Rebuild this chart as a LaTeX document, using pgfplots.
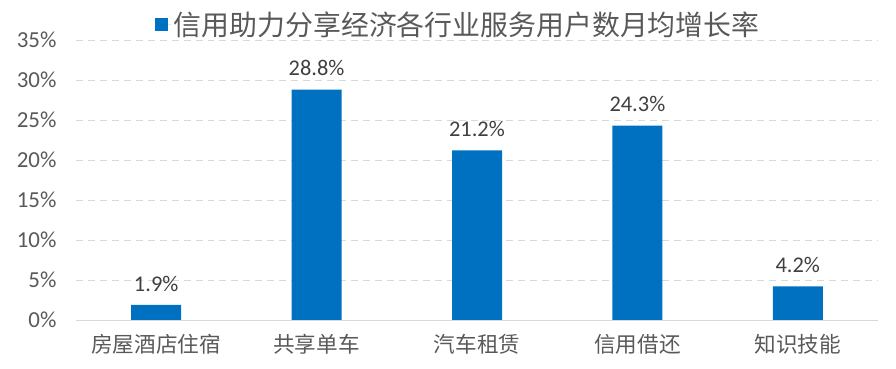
\documentclass[border=0pt]{standalone}
\usepackage{pgfplots}
\pgfplotsset{compat=1.18}
\usepackage{fontspec}
\setmainfont{Carlito}
\newfontfamily\cjk{Noto Sans CJK SC}
\definecolor{barblue}{HTML}{0070C0}
\definecolor{txtgray}{HTML}{595959}
\definecolor{lblgray}{HTML}{404040}
\definecolor{gridgray}{HTML}{D9D9D9}
\begin{document}
\begin{tikzpicture}
\path[use as bounding box] (0,0) rectangle (896bp,369bp);
\begin{axis}[
  at={(76bp,49bp)}, anchor=south west,
  scale only axis, width=802bp, height=280bp,
  xmin=-0.5, xmax=4.5, ymin=0, ymax=35,
  xtick={0,1,2,3,4},
  xticklabels={房屋酒店住宿,共享单车,汽车租赁,信用借还,知识技能},
  ytick={0,5,10,15,20,25,30,35},
  yticklabel={\pgfmathprintnumber{\tick}\%},
  /pgf/number format/assume math mode=true,
  axis x line*=bottom, axis y line*=left,
  x axis line style={draw=gridgray, line width=1pt, -},
  y axis line style={draw=none},
  major tick length=0pt,
  ymajorgrids, grid style={draw=gridgray, dashed, dash pattern=on 7pt off 5pt, line width=1pt},
  xticklabel style={font=\cjk\fontsize{21.7}{25}\selectfont, text=txtgray, yshift=-11bp},
  yticklabel style={font=\fontsize{23}{27}\selectfont, text=txtgray, xshift=-16bp},
  ybar, bar width=50bp,
  nodes near coords={\pgfmathprintnumber[fixed,fixed zerofill,precision=1]{\pgfplotspointmeta}\%},
  nodes near coords style={font=\fontsize{22.5}{26}\selectfont, text=lblgray, yshift=10bp},
  legend style={at={(0.4765,1.054)}, anchor=center, draw=none, fill=none, text=txtgray},
  legend image code/.code={\fill[barblue] (0bp,-6.5bp) rectangle (13bp,6.5bp);
    \path (13bp,0) -- (17bp,0);},
  clip=false,
]
\addplot[fill=barblue, draw=none] coordinates {(0,1.9) (1,28.8) (2,21.2) (3,24.3) (4,4.2)};
\addlegendentry{\cjk\fontsize{28}{32}\selectfont 信用助力分享经济各行业服务用户数月均增长率}
\end{axis}
\end{tikzpicture}
\end{document}
